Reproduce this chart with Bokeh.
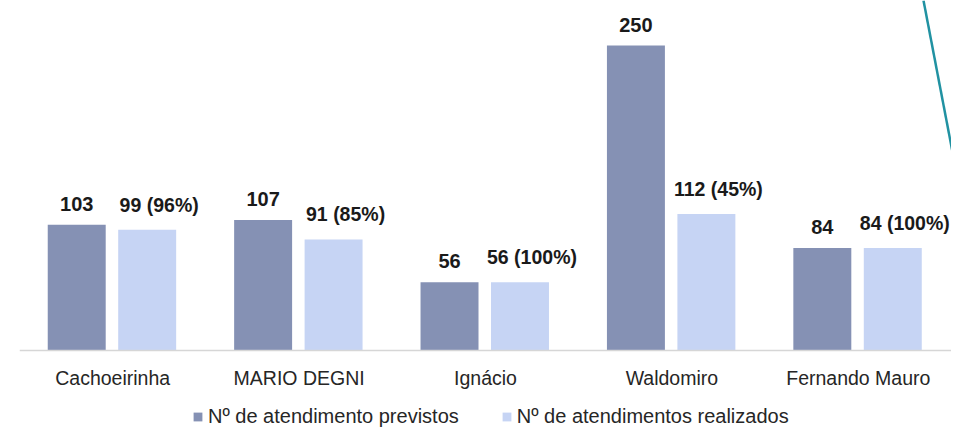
from bokeh.plotting import figure
from bokeh.models import FactorRange, Range1d, Legend, LegendItem, ColumnDataSource, Slope, Span
from bokeh.transform import dodge
from bokeh.embed import file_html
from bokeh.resources import INLINE
from bokeh.core.properties import value

categories = ["Cachoeirinha", "MARIO DEGNI", "Ignácio", "Waldomiro", "Fernando Mauro"]
previstos = [103, 107, 56, 250, 84]
realizados = [99, 91, 56, 112, 84]
pct_labels = ["96%", "85%", "100%", "45%", "100%"]
series_names = ["Nº de atendimento previstos", "Nº de atendimentos realizados"]

DARK = "#8591b4"
LIGHT = "#c6d4f4"
FONT = "Liberation Sans"

src = ColumnDataSource(dict(
    cat=categories,
    base=[0] * len(categories),
    prev=previstos,
    real=realizados,
    prev_lbl=[str(v) for v in previstos],
    real_lbl=[f"{v} ({p})" for v, p in zip(realizados, pct_labels)],
))

p = figure(x_range=FactorRange(*categories), y_range=Range1d(-64, 287),
           width=951, height=428, frame_width=932, frame_height=428,
           min_border_left=19, min_border_right=0, min_border_top=0, min_border_bottom=0,
           output_backend="svg", toolbar_location=None,
           x_axis_location=None, y_axis_location=None)
p.x_range.range_padding = 0

r1 = p.vbar(x=dodge("cat", -0.193, range=p.x_range), top="prev", width=0.311,
            source=src, fill_color=DARK, line_color=None)
r2 = p.vbar(x=dodge("cat", 0.185, range=p.x_range), top="real", width=0.311,
            source=src, fill_color=LIGHT, line_color=None)

# baseline (category axis line)
p.add_layout(Span(location=0, dimension="width", line_color="#d6d6d6", line_width=1.5))

# category labels
p.text(x="cat", y="base", text="cat", source=src,
       text_align="center", text_baseline="middle", y_offset=28,
       text_font=value(FONT), text_font_size="19.5px", text_color="#262626")

p.text(x=dodge("cat", -0.193, range=p.x_range), y="prev", text="prev_lbl", source=src,
       text_align="center", text_baseline="bottom", y_offset=-14,
       text_font=value(FONT), text_font_style="bold", text_font_size="20px", text_color="#1a1a1a")
p.text(x=dodge("cat", 0.185, range=p.x_range), y="real", text="real_lbl", source=src,
       text_align="center", text_baseline="bottom", x_offset=12, y_offset=-14,
       text_font=value(FONT), text_font_style="bold", text_font_size="19.5px", text_color="#1a1a1a")

# decorative teal stroke crossing the top-right corner of the slide
p.add_layout(Slope(gradient=-799, y_intercept=4162, line_color="#2192a2", line_width=2.5))

p.xgrid.visible = False
p.ygrid.visible = False
p.outline_line_color = None
p.background_fill_color = "white"
p.border_fill_color = "white"

legend = Legend(items=[LegendItem(label=series_names[0], renderers=[r1]),
                       LegendItem(label=series_names[1], renderers=[r2])],
                location=(173, 0), orientation="horizontal",
                padding=0, margin=0, spacing=42, label_standoff=5,
                glyph_width=11, glyph_height=11, label_height=20,
                border_line_color=None, background_fill_alpha=0,
                label_text_font=FONT, label_text_font_size="20px", label_text_color="#262626")
p.add_layout(legend, "center")

open("out.html", "w").write(file_html(p, INLINE))
